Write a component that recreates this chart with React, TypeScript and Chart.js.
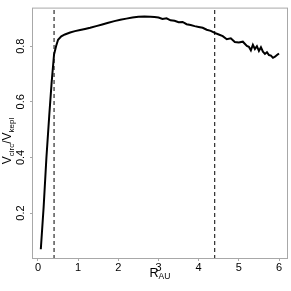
import React, { useEffect, useRef } from "react";
import { Chart, registerables } from "chart.js";

Chart.register(...registerables);

const rValues = [0.07, 0.14, 0.21, 0.28, 0.34, 0.40, 0.45, 0.50, 0.58, 0.67, 0.80, 0.92, 1.05, 1.17, 1.30, 1.45, 1.60, 1.75, 1.90, 2.05, 2.20, 2.35, 2.50, 2.65, 2.80, 2.90, 3.00, 3.10, 3.20, 3.30, 3.40, 3.50, 3.60, 3.70, 3.80, 3.90, 4.00, 4.10, 4.20, 4.30, 4.40, 4.50, 4.60, 4.70, 4.80, 4.90, 5.00, 5.10, 5.20, 5.25, 5.30, 5.35, 5.40, 5.45, 5.50, 5.55, 5.60, 5.65, 5.70, 5.75, 5.80, 5.85, 5.90, 5.95, 6.00];
const vRatio = [0.07, 0.22, 0.40, 0.55, 0.67, 0.77, 0.80, 0.823, 0.835, 0.842, 0.849, 0.854, 0.858, 0.862, 0.866, 0.872, 0.878, 0.884, 0.890, 0.895, 0.899, 0.903, 0.906, 0.907, 0.906, 0.905, 0.903, 0.898, 0.900, 0.893, 0.891, 0.886, 0.887, 0.879, 0.876, 0.872, 0.869, 0.866, 0.859, 0.855, 0.848, 0.842, 0.836, 0.825, 0.828, 0.815, 0.813, 0.816, 0.801, 0.798, 0.785, 0.805, 0.790, 0.800, 0.783, 0.796, 0.780, 0.772, 0.778, 0.768, 0.766, 0.758, 0.762, 0.768, 0.774];
const markerR = [0.4, 4.4];
const xTicks = [0, 1, 2, 3, 4, 5, 6];
const yTicks = [0.2, 0.4, 0.6, 0.8];
const xRange = [-0.149, 6.224];
const yRange = [0.035, 0.9386];

const FONT = "'Liberation Sans', Arial, sans-serif";

const framePlugin = {
  id: "frame",
  afterDraw(chart: any) {
    const { ctx, chartArea: a } = chart;
    ctx.save();
    ctx.strokeStyle = "#a8a8a8";
    ctx.lineWidth = 1;
    ctx.strokeRect(a.left + 0.5, a.top + 0.5, a.right - a.left - 1, a.bottom - a.top - 1);
    ctx.fillStyle = "#000";
    // x title R_AU
    const cx = (a.left + a.right) / 2;
    ctx.font = `12.5px ${FONT}`;
    const rW = ctx.measureText("R").width;
    ctx.font = `8.5px ${FONT}`;
    const auW = ctx.measureText("AU").width;
    let x0 = cx - (rW + auW) / 2;
    ctx.textBaseline = "alphabetic";
    ctx.textAlign = "left";
    ctx.font = `12.5px ${FONT}`;
    ctx.fillText("R", x0, 277);
    ctx.font = `8.5px ${FONT}`;
    ctx.fillText("AU", x0 + rW, 279);
    // y title V_circ/V_kepl
    ctx.translate(11, 141);
    ctx.rotate(-Math.PI / 2);
    const parts: [string, number, number][] = [
      ["V", 12, 0],
      ["circ", 8, 2.5],
      ["/", 12, 0],
      ["V", 12, 0],
      ["kepl", 8, 2.5],
    ];
    let total = 0;
    for (const [t, s] of parts) {
      ctx.font = `${s}px ${FONT}`;
      total += ctx.measureText(t).width;
    }
    let px = -total / 2;
    for (const [t, s, dy] of parts) {
      ctx.font = `${s}px ${FONT}`;
      ctx.fillText(t, px, dy);
      px += ctx.measureText(t).width;
    }
    ctx.restore();
  },
};

export default function App() {
  const ref = useRef<HTMLCanvasElement>(null);
  useEffect(() => {
    const markerSets = markerR.map((r) => ({
      data: [
        { x: r, y: yRange[0] },
        { x: r, y: yRange[1] },
      ],
      borderColor: "#000",
      borderWidth: 1,
      borderDash: [4, 3],
      pointRadius: 0,
      fill: false,
    }));
    const chart = new Chart(ref.current!, {
      type: "line",
      data: {
        datasets: [
          {
            data: rValues.map((r, i) => ({ x: r, y: vRatio[i] })),
            borderColor: "#000",
            borderWidth: 2,
            pointRadius: 0,
            fill: false,
            tension: 0,
          },
          ...markerSets,
        ],
      },
      options: {
        animation: false,
        responsive: false,
        layout: { padding: { top: 3, right: 3, left: 0, bottom: 0 } },
        plugins: { legend: { display: false }, tooltip: { enabled: false }, title: { display: false } },
        scales: {
          x: {
            type: "linear",
            min: xRange[0],
            max: xRange[1],
            afterBuildTicks: (s: any) => {
              s.ticks = xTicks.map((v) => ({ value: v }));
            },
            afterFit: (s: any) => {
              s.height = 32;
            },
            grid: { drawOnChartArea: false, drawTicks: true, tickLength: 2, color: "#a8a8a8" },
            border: { display: false },
            ticks: { font: { family: FONT, size: 11 }, color: "#000", padding: 0, maxRotation: 0, autoSkip: false },
          },
          y: {
            type: "linear",
            min: yRange[0],
            max: yRange[1],
            afterBuildTicks: (s: any) => {
              s.ticks = yTicks.map((v) => ({ value: v }));
            },
            afterFit: (s: any) => {
              s.width = 32;
            },
            grid: { drawOnChartArea: false, drawTicks: true, tickLength: 2, color: "#a8a8a8" },
            border: { display: false },
            ticks: {
              font: { family: FONT, size: 11 },
              color: "#000",
              padding: 1,
              minRotation: 90,
              maxRotation: 90,
              crossAlign: "center",
              autoSkip: false,
              callback: (v: any) => String(v),
            },
          },
        },
      },
      plugins: [framePlugin],
    });
    return () => chart.destroy();
  }, []);
  return (
    <div style={{ position: "fixed", left: 0, top: 0, width: 291, height: 291, background: "#fff" }}>
      <canvas ref={ref} width={291} height={291} style={{ width: 291, height: 291 }} />
    </div>
  );
}
